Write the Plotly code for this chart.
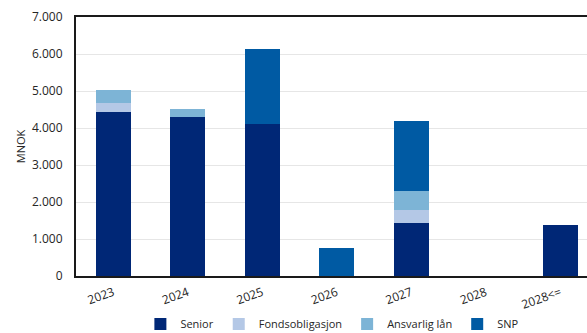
import plotly.graph_objects as go

categories = ["2023", "2024", "2025", "2026", "2027", "2028", "2028<="]
senior = [4420, 4300, 4110, 0, 1440, 0, 1390]
fondsobligasjon = [250, 0, 0, 0, 340, 0, 0]
ansvarlig_lan = [360, 220, 0, 0, 520, 0, 0]
snp = [0, 0, 2020, 760, 1900, 0, 0]

series = [
    ("Senior", senior, "#002776"),
    ("Fondsobligasjon", fondsobligasjon, "#b4c8e6"),
    ("Ansvarlig lån", ansvarlig_lan, "#7db4d6"),
    ("SNP", snp, "#005aa3"),
]

fig = go.Figure()
for name, vals, color in series:
    fig.add_trace(go.Bar(
        x=categories, y=vals, name=name,
        marker=dict(color=color, line=dict(width=0)),
        width=0.47,
    ))

font = dict(family="Open Sans", size=11, color="#262626")
fig.update_layout(
    barmode="stack",
    width=587, height=333,
    margin=dict(l=76, r=0, t=17, b=57, autoexpand=False),
    paper_bgcolor="white", plot_bgcolor="white",
    font=font,
    separators=",.",
    showlegend=True,
    legend=dict(orientation="h", x=0.126, xanchor="left", y=-0.185, yanchor="middle",
                font=dict(family="Open Sans", size=11, color="#262626"),
                traceorder="normal"),
    xaxis=dict(
        type="category", range=[-0.5, 6.36], automargin=False,
        showline=True, linecolor="#1a1a1a", linewidth=2, mirror=True,
        ticks="", tickangle=-20, showgrid=False, ticklabelstandoff=3,
        tickfont=dict(family="Open Sans", size=12, color="#262626"),
    ),
    yaxis=dict(
        range=[0, 7000], dtick=1000, tickformat=",d", automargin=False,
        showline=True, linecolor="#1a1a1a", linewidth=2,
        showgrid=True, gridcolor="#e6e6e6", gridwidth=1,
        zeroline=False, ticks="", ticklabelstandoff=9,
        tickfont=dict(family="Open Sans", size=12, color="#262626"),
        title=dict(text="MNOK", font=dict(family="Open Sans", size=11, color="#262626"), standoff=4),
    ),
)
fig.write_html("out.html")
